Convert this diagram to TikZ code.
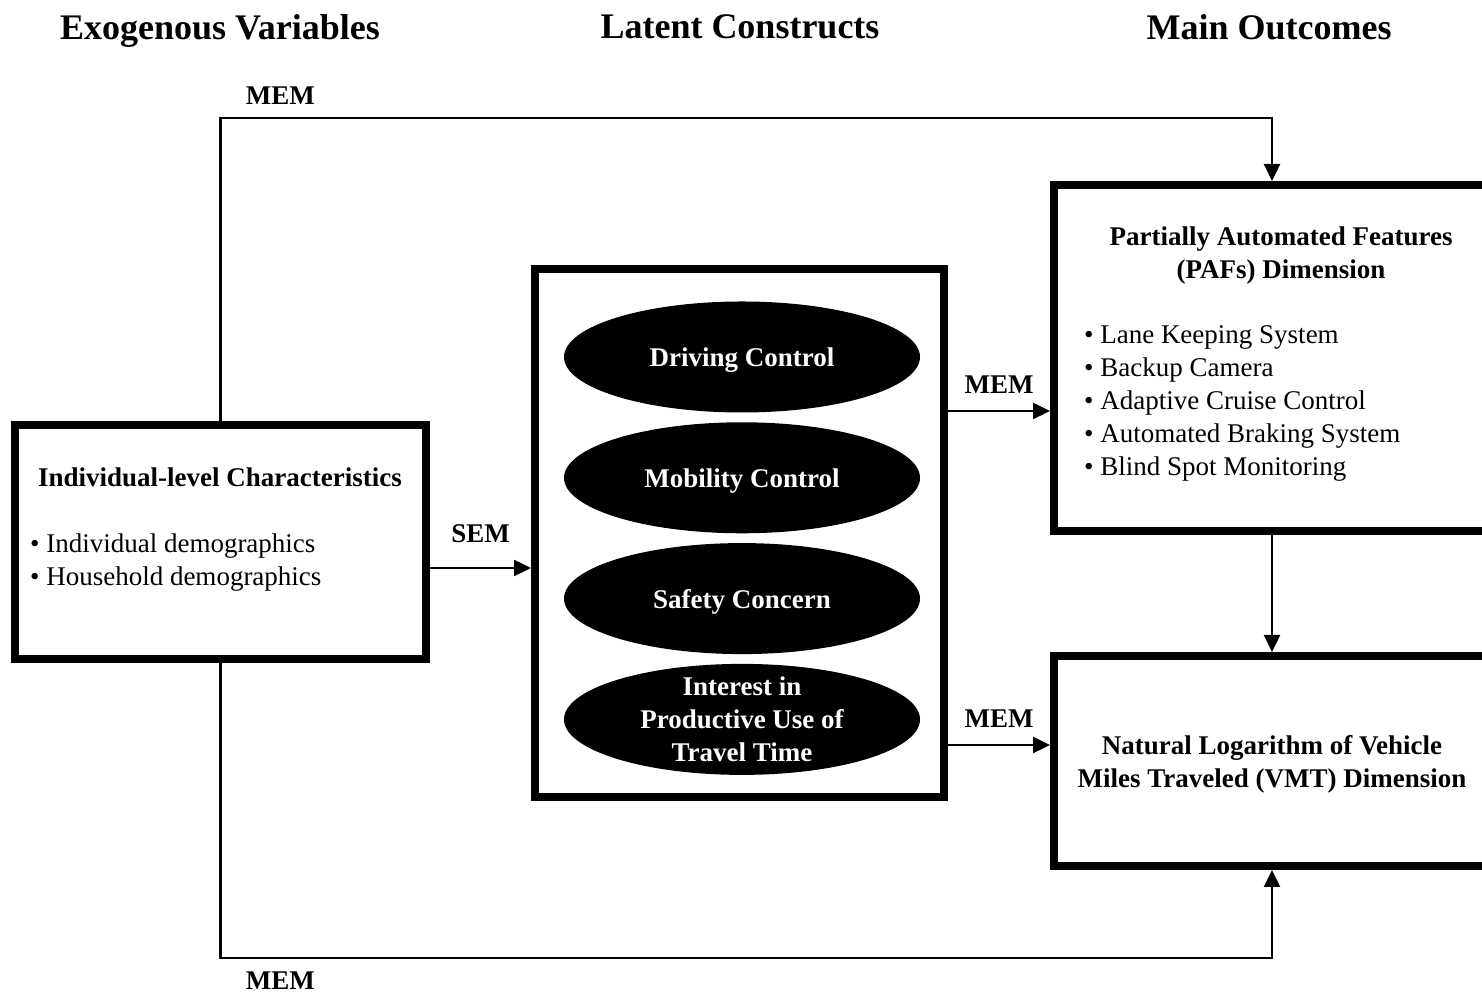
\documentclass[tikz,border=0pt]{standalone}
\usepackage{fontspec}
\setmainfont{Liberation Serif}
\usetikzlibrary{shapes.geometric, arrows.meta, positioning, calc}

\begin{document}
\begin{tikzpicture}[
        x=0.5pt, y=0.5pt,
        box/.style={rectangle, draw=black, line width=4pt},
        oval/.style={ellipse, fill=black, text=white, minimum width=178pt, minimum height=55.5pt, inner sep=0pt, text depth=0pt, font=\fontsize{13.5}{16.5}\selectfont\bfseries, align=center},
        ovaltxt/.style={text=white, font=\fontsize{13.5}{16.5}\selectfont\bfseries, align=center},
        hdr/.style={font=\fontsize{13.5}{16.5}\selectfont\bfseries, align=center},
        items/.style={font=\fontsize{13.5}{16.5}\selectfont, align=left, anchor=west},
        coltitle/.style={font=\fontsize{18}{22}\selectfont\bfseries, text depth=0pt},
        lbl/.style={font=\fontsize{13.5}{16.5}\selectfont\bfseries},
        arrow/.style={-{Triangle[length=8.5pt, width=8pt]}, line width=1.2pt}
    ]
    \clip (0,0) rectangle (1482,994);

    % Column titles
    \node[coltitle] (exo) at (220,967) {Exogenous Variables};
    \node[coltitle] (lat) at (740,967) {Latent Constructs};
    \node[coltitle] (out) at (1269,967) {Main Outcomes};

    % Nodes
    \node[box, minimum width=205.5pt, minimum height=117pt] (indiv) at (220.5,452) {};
    \node[box, minimum width=204.5pt, minimum height=264pt, right=50.5pt of indiv, yshift=4.5pt] (latent) {};
    \node[box, minimum width=218pt, minimum height=173pt, right=51pt of latent, yshift=87.5pt] (paf) {};
    \node[box, minimum width=218pt, minimum height=105pt, below=58.5pt of paf] (vmt) {};

    \node[hdr] (indivtitle) at (220,517) {Individual-level Characteristics};
    \node[items] (indivlist) at (23,431.5) {\textbullet~Individual demographics\\\textbullet~Household demographics};

    \node[oval] (drive) at (742,637) {Driving Control};
    \node[oval, below=4.5pt of drive] (mobil) {Mobility Control};
    \node[oval, below=4.5pt of mobil] (safety) {Safety Concern};
    \node[oval, below=4.5pt of safety, label={[ovaltxt]center:Interest in\\Productive Use of\\Travel Time}] (interest) {};

    \node[hdr] (paftitle) at (1281,738) {Partially Automated Features\\(PAFs) Dimension};
    \node[items] (paflist) at (1077,591) {\textbullet~Lane Keeping System\\\textbullet~Backup Camera\\\textbullet~Adaptive Cruise Control\\\textbullet~Automated Braking System\\\textbullet~Blind Spot Monitoring};
    \node[hdr] (vmttitle) at (1272,230) {Natural Logarithm of Vehicle\\Miles Traveled (VMT) Dimension};

    \coordinate (mtop) at (0,876);
    \coordinate (mbot) at (0,36);

    % Connections
    \draw[arrow] (indiv.north) -- (indiv.north |- mtop) -- node[lbl, above=2.7pt, pos=0.057] {MEM} (paf.north |- mtop) -- (paf.north);
    \draw[arrow] (indiv.south) -- (indiv.south |- mbot) -- node[lbl, below=3.2pt, pos=0.057] {MEM} (vmt.south |- mbot) -- (vmt.south);

    \draw[arrow] ([yshift=-13pt]indiv.east) -- node[lbl, above=8.7pt] {SEM} ([yshift=-13pt]indiv.east -| latent.west);
    \draw[arrow] ([yshift=-26.5pt]paf.west -| latent.east) -- node[lbl, above=4.7pt] {MEM} ([yshift=-26.5pt]paf.west);
    \draw[arrow] ([yshift=8pt]vmt.west -| latent.east) -- node[lbl, above=4.7pt] {MEM} ([yshift=8pt]vmt.west);

    \draw[arrow] (paf.south) -- (vmt.north);

\end{tikzpicture}
\end{document}
